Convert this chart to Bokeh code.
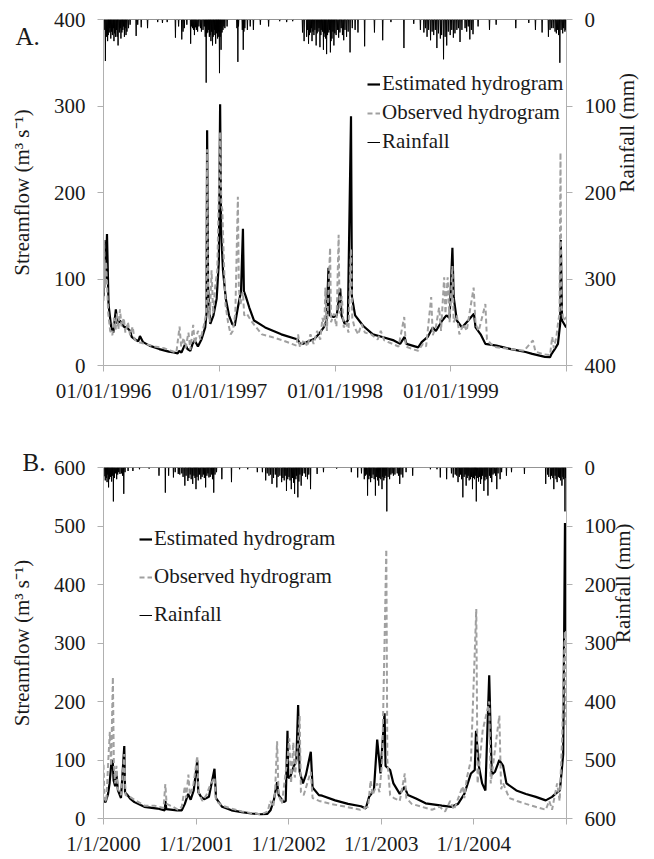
import math
import pandas as pd
from bokeh.plotting import figure
from bokeh.models import Range1d, LinearAxis, FixedTicker, Legend, LegendItem
from bokeh.layouts import column
from bokeh.embed import file_html
from bokeh.resources import INLINE

FONT = "Liberation Serif"
AXIS_GRAY = "#b0b0b0"
TEXT = "#1a1a1a"
EST_COLOR = "#000000"
OBS_COLOR = "#a0a0a0"

# ---------------- Panel A : 1996-1999 ----------------
a_est_dates = ["1996-01-01", "1996-01-04", "1996-01-08", "1996-01-12", "1996-01-17", "1996-01-25",
               "1996-02-01", "1996-02-09", "1996-02-14", "1996-02-22", "1996-03-05", "1996-03-15",
               "1996-03-25", "1996-03-30", "1996-04-10", "1996-04-20", "1996-04-25", "1996-05-05",
               "1996-05-25", "1996-06-25", "1996-07-25", "1996-08-10", "1996-08-22", "1996-08-27",
               "1996-09-03", "1996-09-15", "1996-09-22", "1996-10-01", "1996-10-08", "1996-10-15",
               "1996-10-25", "1996-11-05", "1996-11-17", "1996-11-21", "1996-11-23", "1996-11-26",
               "1996-12-03", "1996-12-13", "1996-12-23", "1996-12-30", "1997-01-03", "1997-01-06",
               "1997-01-12", "1997-01-21", "1997-01-31", "1997-02-10", "1997-02-18", "1997-02-28",
               "1997-03-10", "1997-03-16", "1997-03-19", "1997-03-25", "1997-04-05", "1997-04-20",
               "1997-05-25", "1997-07-15", "1997-09-05", "1997-09-12", "1997-09-20", "1997-10-15",
               "1997-10-28", "1997-11-10", "1997-11-26", "1997-12-05", "1997-12-11", "1997-12-14",
               "1997-12-27", "1998-01-06", "1998-01-17", "1998-01-21", "1998-01-31", "1998-02-10",
               "1998-02-20", "1998-02-23", "1998-03-05", "1998-03-30", "1998-04-30", "1998-05-30",
               "1998-07-05", "1998-07-25", "1998-08-08", "1998-08-14", "1998-09-20", "1998-10-01",
               "1998-10-20", "1998-11-05", "1998-11-15", "1998-12-05", "1998-12-18", "1998-12-28",
               "1999-01-06", "1999-01-10", "1999-01-20", "1999-02-05", "1999-02-25", "1999-03-15",
               "1999-03-20", "1999-04-05", "1999-04-20", "1999-05-25", "1999-07-10", "1999-08-25",
               "1999-09-15", "1999-10-25", "1999-11-10", "1999-11-15", "1999-11-25", "1999-12-05",
               "1999-12-12", "1999-12-14", "1999-12-18", "1999-12-31"]
a_est_flow = [80, 145, 100, 152, 70, 45,
              38, 65, 48, 52, 45, 44,
              40, 33, 30, 28, 34, 27,
              23, 19, 16, 15, 14, 17,
              15, 25, 19, 17, 25, 29,
              22, 30, 44, 60, 272, 90,
              48, 58, 77, 120, 302, 156,
              110, 77, 58, 48, 46, 67,
              86, 158, 86, 80, 67, 52,
              44, 36, 30, 25, 25, 29,
              31, 36, 44, 52, 113, 58,
              56, 58, 89, 58, 48, 52,
              288, 79, 58, 46, 36, 33,
              29, 25, 33, 25, 21, 27,
              33, 44, 40, 52, 58, 55,
              136, 79, 52, 44, 52, 60,
              44, 36, 25, 23, 19, 15.6,
              13.5, 10, 9.6, 13.5, 19, 25,
              48, 145, 52, 44]

a_obs_dates = ["1996-01-01", "1996-01-03", "1996-01-06", "1996-01-09", "1996-01-12", "1996-01-16",
               "1996-01-22", "1996-01-29", "1996-02-03", "1996-02-08", "1996-02-12", "1996-02-17",
               "1996-02-22", "1996-02-27", "1996-03-05", "1996-03-10", "1996-03-18", "1996-03-25",
               "1996-04-02", "1996-04-08", "1996-04-20", "1996-05-10", "1996-06-10", "1996-07-10",
               "1996-08-01", "1996-08-18", "1996-08-28", "1996-09-02", "1996-09-10", "1996-09-16",
               "1996-09-25", "1996-10-01", "1996-10-10", "1996-10-15", "1996-10-25", "1996-11-02",
               "1996-11-12", "1996-11-20", "1996-11-23", "1996-11-26", "1996-12-01", "1996-12-07",
               "1996-12-12", "1996-12-18", "1996-12-25", "1997-01-03", "1997-01-07", "1997-01-10",
               "1997-01-14", "1997-01-20", "1997-01-28", "1997-02-05", "1997-02-12", "1997-02-20",
               "1997-02-28", "1997-03-03", "1997-03-08", "1997-03-16", "1997-03-20", "1997-03-28",
               "1997-04-10", "1997-04-25", "1997-05-15", "1997-06-15", "1997-07-20", "1997-09-01",
               "1997-09-06", "1997-09-12", "1997-09-25", "1997-10-05", "1997-10-15", "1997-10-25",
               "1997-11-05", "1997-11-15", "1997-11-22", "1997-11-28", "1997-12-01", "1997-12-06",
               "1997-12-16", "1997-12-19", "1997-12-28", "1998-01-05", "1998-01-12", "1998-01-15",
               "1998-01-22", "1998-01-28", "1998-02-05", "1998-02-12", "1998-02-20", "1998-02-24",
               "1998-03-03", "1998-03-15", "1998-03-25", "1998-04-05", "1998-04-25", "1998-05-15",
               "1998-05-25", "1998-06-05", "1998-07-01", "1998-07-20", "1998-08-07", "1998-08-12",
               "1998-09-01", "1998-09-20", "1998-10-05", "1998-10-15", "1998-10-31", "1998-11-05",
               "1998-11-15", "1998-11-25", "1998-12-01", "1998-12-11", "1998-12-15", "1998-12-22",
               "1998-12-28", "1999-01-06", "1999-01-10", "1999-01-20", "1999-01-28", "1999-02-10",
               "1999-02-20", "1999-03-14", "1999-03-20", "1999-03-30", "1999-04-20", "1999-04-25",
               "1999-05-10", "1999-05-25", "1999-07-10", "1999-08-20", "1999-09-17", "1999-09-25",
               "1999-10-20", "1999-11-10", "1999-11-17", "1999-11-22", "1999-11-30", "1999-12-05",
               "1999-12-10", "1999-12-13", "1999-12-16", "1999-12-22", "1999-12-31"]
a_obs_flow = [75, 145, 90, 120, 95, 60,
              40, 35, 55, 40, 60, 42,
              65, 45, 55, 38, 50, 35,
              45, 30, 27, 25, 22, 20,
              17, 15, 45, 22, 32, 20,
              38, 18, 47, 25, 40, 30,
              45, 60, 250, 80, 50, 110,
              60, 90, 110, 270, 185, 180,
              130, 70, 50, 36, 40, 60,
              195, 90, 70, 85, 58, 60,
              52, 45, 36, 33, 29, 23,
              36, 21, 30, 22, 36, 25,
              40, 30, 55, 45, 90, 40,
              136, 50, 60, 45, 151, 60,
              80, 44, 50, 38, 135, 55,
              44, 36, 48, 38, 36, 30,
              40, 29, 25, 22, 56, 22,
              19, 17, 25, 22, 79, 35,
              45, 67, 40, 102, 60, 102,
              50, 115, 50, 58, 36, 48,
              40, 90, 48, 40, 71, 30,
              24, 21, 19, 17, 29, 16,
              13, 12, 33, 20, 33, 48,
              60, 246, 70, 52, 56]

# larger daily rainfall events
a_rain_dates = ["1996-01-07", "1996-01-10", "1996-01-14", "1996-01-19", "1996-01-24", "1996-01-29",
                "1996-02-03", "1996-02-08", "1996-02-16", "1996-02-20", "1996-02-25", "1996-03-02",
                "1996-03-07", "1996-03-12", "1996-03-20", "1996-04-13", "1996-04-18", "1996-04-29",
                "1996-05-19", "1996-06-20", "1996-07-05", "1996-07-20", "1996-08-15", "1996-08-25",
                "1996-09-04", "1996-09-08", "1996-09-12", "1996-09-20", "1996-10-02", "1996-10-08",
                "1996-10-14", "1996-10-20", "1996-10-28", "1996-11-05", "1996-11-20", "1996-11-25",
                "1996-11-30", "1996-12-05", "1996-12-10", "1996-12-15", "1996-12-20", "1996-12-24",
                "1996-12-28", "1997-01-01", "1997-01-06", "1997-01-12", "1997-01-18", "1997-01-25",
                "1997-02-28", "1997-03-17", "1997-03-22", "1997-03-30", "1997-04-08", "1997-04-18",
                "1997-05-10", "1997-06-05", "1997-07-10", "1997-08-01", "1997-08-20", "1997-09-20",
                "1997-09-25", "1997-10-03", "1997-10-09", "1997-10-15", "1997-10-20", "1997-10-26",
                "1997-11-02", "1997-11-08", "1997-11-14", "1997-11-20", "1997-11-25", "1997-11-30",
                "1997-12-05", "1997-12-12", "1997-12-17", "1997-12-22", "1997-12-28", "1998-01-12",
                "1998-01-28", "1998-02-17", "1998-03-14", "1998-04-04", "1998-05-05", "1998-05-31",
                "1998-06-26", "1998-08-06", "1998-09-06", "1998-09-27", "1998-10-08", "1998-10-18",
                "1998-10-29", "1998-11-08", "1998-11-18", "1998-11-29", "1998-12-09", "1998-12-19",
                "1998-12-30", "1999-01-09", "1999-01-20", "1999-01-30", "1999-02-15", "1999-03-02",
                "1999-03-12", "1999-03-28", "1999-05-03", "1999-05-24", "1999-07-25", "1999-09-04",
                "1999-09-25", "1999-10-16", "1999-11-05", "1999-11-15", "1999-11-26", "1999-12-11",
                "1999-12-27"]
a_rain_mm = [48, 20, 25, 15, 22, 18,
             25, 20, 30, 15, 22, 12,
             20, 18, 10, 19, 6, 9,
             10, 3, 4, 3, 21, 8,
             23, 14, 10, 6, 28, 10,
             18, 12, 8, 14, 73, 15,
             20, 25, 30, 18, 28, 12,
             20, 62, 35, 12, 10, 8,
             49, 35, 10, 12, 8, 12,
             6, 8, 2, 3, 2, 15,
             25, 20, 28, 15, 25, 18,
             30, 14, 32, 12, 35, 20,
             40, 15, 38, 22, 30, 21,
             24, 38, 15, 31, 15, 24,
             3, 33, 5, 12, 15, 20,
             24, 18, 33, 22, 46, 30,
             18, 21, 12, 26, 10, 23,
             17, 8, 12, 6, 10, 4,
             12, 15, 20, 10, 14, 50,
             14]
# smaller showers filling the wet seasons
a_shower_dates = ["1996-01-03", "1996-01-16", "1996-01-21", "1996-01-26", "1996-02-01", "1996-02-05",
                  "1996-02-11", "1996-02-13", "1996-02-23", "1996-02-28", "1996-03-04", "1996-03-09",
                  "1996-03-15", "1996-03-25", "1996-10-05", "1996-10-11", "1996-10-17", "1996-10-24",
                  "1996-11-02", "1996-11-10", "1996-11-14", "1996-11-17", "1996-11-22", "1996-11-28",
                  "1996-12-02", "1996-12-07", "1996-12-12", "1996-12-17", "1996-12-22", "1996-12-26",
                  "1996-12-30", "1997-01-03", "1997-01-09", "1997-01-15", "1997-02-25", "1997-03-02",
                  "1997-03-14", "1997-03-19", "1997-10-06", "1997-10-12", "1997-10-18", "1997-10-23",
                  "1997-10-29", "1997-11-05", "1997-11-11", "1997-11-17", "1997-11-22", "1997-11-28",
                  "1997-12-02", "1997-12-08", "1997-12-14", "1997-12-19", "1997-12-25", "1997-12-31",
                  "1998-01-04", "1998-01-08", "1998-01-16", "1998-01-20", "1998-01-24", "1998-02-01",
                  "1998-02-06", "1998-02-11", "1998-02-24", "1998-03-05", "1998-10-13", "1998-10-23",
                  "1998-11-03", "1998-11-13", "1998-11-23", "1998-12-03", "1998-12-14", "1998-12-24",
                  "1999-01-04", "1999-01-14", "1999-01-25", "1999-02-05", "1999-02-20", "1999-02-25",
                  "1999-03-07", "1999-11-10", "1999-11-20", "1999-11-30", "1999-12-04", "1999-12-07",
                  "1999-12-15", "1999-12-20", "1999-12-23", "1999-12-30"]
a_shower_mm = [12, 18, 10, 14, 10, 16,
               12, 20, 10, 15, 8, 10,
               14, 6, 8, 12, 9, 14,
               10, 12, 8, 20, 16, 12,
               18, 14, 20, 12, 16, 22,
               14, 20, 15, 8, 10, 8,
               12, 14, 12, 18, 10, 14,
               12, 16, 10, 18, 14, 16,
               22, 18, 12, 25, 14, 16,
               18, 12, 15, 10, 18, 12,
               20, 14, 10, 12, 10, 12,
               14, 12, 16, 18, 20, 14,
               12, 16, 10, 12, 14, 8,
               12, 12, 10, 16, 12, 18,
               12, 16, 10, 12]

a_tick_dates = ["1996-01-01", "1997-01-01", "1998-01-01", "1999-01-01"]
a_tick_labels = ["01/01/1996", "01/01/1997", "01/01/1998", "01/01/1999"]
a_flow_ticks = [0, 100, 200, 300, 400]
a_rain_ticks = [0, 100, 200, 300, 400]

# ---------------- Panel B : 2000-2004 ----------------
b_est_dates = ["2000-01-01", "2000-01-09", "2000-01-19", "2000-01-25", "2000-02-01", "2000-02-06",
               "2000-02-10", "2000-02-16", "2000-02-20", "2000-02-27", "2000-03-10", "2000-03-23",
               "2000-03-26", "2000-04-05", "2000-04-15", "2000-05-02", "2000-06-10", "2000-08-01",
               "2000-08-30", "2000-09-01", "2000-09-05", "2000-10-17", "2000-11-05", "2000-11-17",
               "2000-11-30", "2000-12-10", "2000-12-22", "2001-01-05", "2001-01-09", "2001-01-20",
               "2001-02-01", "2001-02-20", "2001-03-14", "2001-03-20", "2001-04-13", "2001-05-20",
               "2001-06-30", "2001-08-07", "2001-09-13", "2001-10-09", "2001-10-21", "2001-11-03",
               "2001-11-16", "2001-11-22", "2001-12-12", "2001-12-20", "2001-12-27", "2001-12-30",
               "2002-01-06", "2002-01-19", "2002-01-31", "2002-02-07", "2002-02-13", "2002-02-26",
               "2002-03-10", "2002-03-29", "2002-04-05", "2002-04-30", "2002-05-13", "2002-07-03",
               "2002-08-23", "2002-10-13", "2002-11-01", "2002-11-14", "2002-12-03", "2002-12-16",
               "2002-12-29", "2003-01-14", "2003-01-18", "2003-02-05", "2003-02-18", "2003-03-15",
               "2003-04-03", "2003-04-16", "2003-05-18", "2003-06-25", "2003-08-28", "2003-10-05",
               "2003-10-31", "2003-11-25", "2003-12-21", "2004-01-05", "2004-01-10", "2004-01-21",
               "2004-02-03", "2004-02-16", "2004-03-02", "2004-03-12", "2004-03-25", "2004-04-11",
               "2004-04-26", "2004-05-09", "2004-06-17", "2004-07-25", "2004-09-02", "2004-10-11",
               "2004-11-05", "2004-11-18", "2004-12-06", "2004-12-19", "2004-12-26", "2004-12-31"]
b_est_flow = [31, 28, 42, 60, 95, 100,
              65, 55, 80, 48, 35, 124,
              45, 40, 34, 28, 20, 17,
              14, 30, 16, 14, 14, 25,
              42, 32, 48, 99, 45, 37,
              33, 37, 85, 35, 20, 14,
              11, 8.5, 7.3, 8, 14, 31,
              62, 40, 28, 30, 150, 70,
              70, 87, 99, 194, 80, 60,
              75, 114, 53, 40, 39, 31,
              25, 21, 17, 37, 48, 135,
              77, 180, 90, 83, 60, 42,
              54, 40, 34, 26, 22, 20,
              25, 42, 77, 83, 150, 90,
              60, 48, 245, 75, 80, 100,
              90, 60, 48, 42, 37, 31,
              37, 42, 48, 110, 505, 320]

b_obs_dates = ["2000-01-01", "2000-01-05", "2000-01-12", "2000-01-20", "2000-01-26", "2000-01-31",
               "2000-02-07", "2000-02-11", "2000-02-16", "2000-02-21", "2000-02-27", "2000-03-10",
               "2000-03-23", "2000-03-28", "2000-04-10", "2000-05-10", "2000-06-10", "2000-07-20",
               "2000-08-25", "2000-09-01", "2000-09-06", "2000-10-01", "2000-10-20", "2000-11-05",
               "2000-11-17", "2000-11-22", "2000-12-01", "2000-12-07", "2000-12-20", "2001-01-05",
               "2001-01-10", "2001-01-25", "2001-02-10", "2001-02-25", "2001-03-14", "2001-03-20",
               "2001-04-13", "2001-05-20", "2001-06-30", "2001-08-10", "2001-09-15", "2001-10-10",
               "2001-10-20", "2001-11-01", "2001-11-08", "2001-11-16", "2001-11-22", "2001-12-05",
               "2001-12-20", "2001-12-27", "2002-01-03", "2002-01-10", "2002-01-19", "2002-01-25",
               "2002-02-07", "2002-02-13", "2002-02-18", "2002-03-01", "2002-03-29", "2002-04-05",
               "2002-05-01", "2002-06-15", "2002-08-15", "2002-10-10", "2002-11-10", "2002-11-20",
               "2002-11-28", "2002-12-16", "2002-12-25", "2003-01-05", "2003-01-21", "2003-01-25",
               "2003-02-05", "2003-02-20", "2003-03-15", "2003-04-04", "2003-04-10", "2003-05-01",
               "2003-06-10", "2003-07-20", "2003-08-20", "2003-09-10", "2003-09-30", "2003-10-15",
               "2003-11-18", "2003-11-25", "2003-12-05", "2003-12-21", "2004-01-11", "2004-01-16",
               "2004-01-25", "2004-02-05", "2004-03-02", "2004-03-08", "2004-04-11", "2004-04-18",
               "2004-04-26", "2004-05-20", "2004-06-20", "2004-07-25", "2004-09-01", "2004-10-11",
               "2004-10-25", "2004-11-05", "2004-11-25", "2004-12-05", "2004-12-15", "2004-12-25",
               "2004-12-31"]
b_obs_flow = [92, 35, 28, 100, 148, 90,
              242, 90, 60, 90, 50, 40,
              110, 40, 38, 30, 22, 22,
              18, 59, 25, 20, 15, 20,
              55, 35, 75, 40, 55, 107,
              45, 30, 40, 57, 70, 30,
              22, 17, 12, 9, 7, 12,
              30, 20, 45, 132, 40, 25,
              80, 100, 137, 60, 130, 70,
              130, 175, 45, 40, 80, 35,
              30, 25, 20, 15, 20, 65,
              40, 60, 45, 100, 460, 100,
              40, 35, 30, 77, 35, 25,
              20, 15, 20, 12, 30, 15,
              55, 35, 70, 100, 358, 60,
              100, 150, 200, 60, 176, 50,
              60, 35, 30, 25, 20, 15,
              30, 15, 60, 30, 140, 320,
              160]

b_rain_dates = ["2000-01-08", "2000-01-21", "2000-02-09", "2000-02-22", "2000-03-06", "2000-03-21",
                "2000-04-07", "2000-04-26", "2000-05-22", "2000-06-29", "2000-08-07", "2000-09-01",
                "2000-09-14", "2000-10-03", "2000-10-22", "2000-11-17", "2000-11-29", "2000-12-18",
                "2000-12-31", "2001-01-19", "2001-02-07", "2001-02-20", "2001-03-11", "2001-04-12",
                "2001-05-20", "2001-06-21", "2001-07-23", "2001-08-30", "2001-09-19", "2001-10-02",
                "2001-10-27", "2001-11-15", "2001-12-04", "2001-12-23", "2002-01-11", "2002-01-24",
                "2002-02-06", "2002-02-19", "2002-03-16", "2002-03-28", "2002-04-23", "2002-05-18",
                "2002-07-09", "2002-09-05", "2002-09-30", "2002-10-26", "2002-11-08", "2002-11-20",
                "2002-12-09", "2002-12-22", "2003-01-04", "2003-01-11", "2003-01-23", "2003-02-03",
                "2003-02-18", "2003-03-15", "2003-03-27", "2003-04-09", "2003-05-05", "2003-07-14",
                "2003-08-09", "2003-08-22", "2003-09-16", "2003-10-12", "2003-10-31", "2003-11-19",
                "2003-12-02", "2003-12-14", "2003-12-27", "2004-01-11", "2004-01-28", "2004-02-10",
                "2004-02-26", "2004-03-12", "2004-04-01", "2004-04-14", "2004-05-09", "2004-05-29",
                "2004-07-19", "2004-10-11", "2004-10-30", "2004-11-12", "2004-11-25", "2004-12-14",
                "2004-12-26"]
b_rain_mm = [22, 34, 58, 20, 11, 45,
             6, 6, 3, 2, 14, 43,
             14, 17, 11, 31, 23, 28,
             37, 20, 34, 17, 43, 20,
             25, 3, 3, 8, 8, 22,
             28, 34, 25, 40, 37, 45,
             51, 31, 20, 37, 11, 8,
             2, 8, 17, 20, 48, 25,
             48, 31, 37, 22, 75, 20,
             14, 28, 17, 8, 14, 3,
             3, 17, 20, 17, 25, 51,
             31, 22, 37, 58, 28, 40,
             48, 25, 37, 20, 14, 8,
             11, 28, 20, 37, 25, 31,
             75]
b_shower_dates = ["2000-01-03", "2000-01-12", "2000-01-15", "2000-01-18", "2000-01-25", "2000-01-29",
                  "2000-02-02", "2000-02-05", "2000-02-13", "2000-02-17", "2000-02-26", "2000-03-01",
                  "2000-03-12", "2000-03-16", "2000-03-26", "2000-10-10", "2000-10-28", "2000-11-05",
                  "2000-11-10", "2000-11-22", "2000-12-03", "2000-12-08", "2000-12-12", "2000-12-23",
                  "2000-12-27", "2001-01-04", "2001-01-09", "2001-01-14", "2001-01-24", "2001-01-29",
                  "2001-02-02", "2001-02-12", "2001-02-16", "2001-02-25", "2001-03-03", "2001-03-06",
                  "2001-03-16", "2001-03-22", "2001-10-08", "2001-10-15", "2001-10-21", "2001-11-02",
                  "2001-11-09", "2001-11-20", "2001-11-27", "2001-12-09", "2001-12-14", "2001-12-18",
                  "2001-12-28", "2002-01-02", "2002-01-06", "2002-01-16", "2002-01-20", "2002-01-29",
                  "2002-02-01", "2002-02-10", "2002-02-14", "2002-02-24", "2002-03-03", "2002-03-09",
                  "2002-03-21", "2002-10-15", "2002-10-30", "2002-11-03", "2002-11-13", "2002-11-16",
                  "2002-11-25", "2002-11-30", "2002-12-04", "2002-12-14", "2002-12-18", "2002-12-26",
                  "2002-12-30", "2003-01-07", "2003-01-15", "2003-01-19", "2003-01-28", "2003-02-08",
                  "2003-02-13", "2003-02-24", "2003-03-05", "2003-03-10", "2003-03-20", "2003-10-05",
                  "2003-10-20", "2003-10-26", "2003-11-05", "2003-11-10", "2003-11-14", "2003-11-24",
                  "2003-11-28", "2003-12-06", "2003-12-10", "2003-12-19", "2003-12-23", "2003-12-31",
                  "2004-01-04", "2004-01-07", "2004-01-15", "2004-01-20", "2004-01-24", "2004-02-01",
                  "2004-02-05", "2004-02-14", "2004-02-18", "2004-02-22", "2004-03-03", "2004-03-07",
                  "2004-03-17", "2004-03-22", "2004-03-27", "2004-04-06", "2004-04-20", "2004-10-18",
                  "2004-10-23", "2004-11-03", "2004-11-08", "2004-11-17", "2004-11-21", "2004-11-30",
                  "2004-12-04", "2004-12-09", "2004-12-18", "2004-12-21", "2004-12-29"]
b_shower_mm = [15, 18, 25, 12, 20, 16,
               24, 14, 18, 10, 12, 8,
               10, 14, 8, 8, 12, 10,
               16, 14, 18, 12, 20, 14,
               18, 16, 22, 12, 16, 12,
               18, 14, 10, 16, 12, 20,
               12, 8, 10, 14, 12, 18,
               12, 16, 14, 18, 22, 14,
               20, 16, 22, 18, 26, 20,
               14, 24, 12, 14, 10, 16,
               12, 10, 14, 12, 20, 14,
               18, 12, 20, 16, 22, 18,
               20, 16, 18, 14, 16, 12,
               10, 12, 10, 14, 12, 10,
               12, 14, 16, 12, 20, 16,
               12, 18, 14, 20, 16, 18,
               20, 14, 18, 24, 16, 20,
               14, 22, 16, 20, 14, 18,
               12, 10, 14, 10, 8, 12,
               16, 14, 18, 14, 20, 16,
               18, 22, 16, 20, 18]

b_tick_dates = ["2000-01-01", "2001-01-01", "2002-01-01", "2003-01-01", "2004-01-01"]
b_tick_labels = ["1/1/2000", "1/1/2001", "1/1/2002", "1/1/2003", "1/1/2004"]
b_flow_ticks = [0, 100, 200, 300, 400, 500, 600]
b_rain_ticks = [0, 100, 200, 300, 400, 500, 600]

legend_labels = ["Estimated hydrogram", "Observed hydrogram", "Rainfall"]
flow_title = "Streamflow (m³ s⁻¹)"
rain_title = "Rainfall (mm)"


def ms(d):
    return float(pd.Timestamp(d).value // 10**6)


def style_axis(ax):
    ax.axis_line_color = AXIS_GRAY
    ax.major_tick_line_color = AXIS_GRAY
    ax.minor_tick_line_color = AXIS_GRAY
    ax.major_tick_in = 0
    ax.major_tick_out = 6
    ax.minor_tick_in = 0
    ax.minor_tick_out = 6
    ax.major_label_text_font = FONT
    ax.major_label_text_font_size = "21px"
    ax.major_label_text_font_style = "normal"
    ax.major_label_text_color = TEXT
    ax.axis_label_text_font = FONT
    ax.axis_label_text_font_size = "21px"
    ax.axis_label_text_font_style = "normal"
    ax.axis_label_text_color = TEXT


def make_panel(start, end, ymax, est_d, est_v, obs_d, obs_v, rain_d, rain_v,
               shower_d, shower_v, tick_d, tick_l, flow_ticks, rain_ticks,
               height, mt, mb, ml, mr,
               panel_text, panel_offset, panel_standoff, panel_line_height,
               legend_loc, legend_spacing, rain_label_standoff):
    p = figure(width=654, height=height, x_axis_type="datetime",
               output_backend="svg", toolbar_location=None,
               x_range=Range1d(ms(start), ms(end)), y_range=Range1d(0, ymax),
               min_border_left=ml, min_border_right=mr,
               min_border_top=mt, min_border_bottom=mb)
    p.outline_line_color = None
    p.xgrid.visible = False
    p.ygrid.visible = False
    p.background_fill_color = "white"
    p.border_fill_color = "white"

    # panel letter drawn as the figure title, pulled down beside the y axis
    p.title.text = panel_text
    p.title.align = "left"
    p.title.offset = panel_offset
    p.title.standoff = panel_standoff
    p.title.vertical_align = "bottom"
    p.title.text_font = FONT
    p.title.text_font_size = "25px"
    p.title.text_font_style = "normal"
    p.title.text_color = TEXT
    p.title.text_line_height = panel_line_height

    p.extra_y_ranges = {"rain": Range1d(start=ymax, end=0)}

    # x axis
    xa = p.below[0]
    xa.ticker = FixedTicker(ticks=[ms(d) for d in tick_d], minor_ticks=[ms(end)])
    xa.major_label_overrides = {ms(d): l for d, l in zip(tick_d, tick_l)}
    style_axis(xa)
    xa.major_label_standoff = 7

    # left axis
    ya = p.left[0]
    ya.ticker = FixedTicker(ticks=flow_ticks)
    ya.axis_label = flow_title
    style_axis(ya)
    ya.minor_tick_line_color = None
    ya.major_label_standoff = 12
    ya.axis_label_standoff = 17

    # right axis (rainfall, reversed)
    ra = LinearAxis(y_range_name="rain", ticker=FixedTicker(ticks=rain_ticks))
    style_axis(ra)
    ra.minor_tick_line_color = None
    ra.major_label_standoff = 12
    ra.axis_label = rain_title
    ra.axis_label_standoff = rain_label_standoff
    try:
        ra.axis_label_orientation = math.pi / 2
    except Exception:
        pass
    p.add_layout(ra, "right")

    est_x = pd.to_datetime(est_d)
    obs_x = pd.to_datetime(obs_d)
    r_est = p.line(est_x, est_v, line_color=EST_COLOR, line_width=2.2)
    r_obs = p.line(obs_x, obs_v, line_color=OBS_COLOR, line_width=2, line_dash="5 3")

    # daily rainfall: zero on days without a recorded event
    days = pd.date_range(start, end, freq="D")
    rain = pd.Series(0.0, index=days)
    rain.loc[pd.to_datetime(rain_d)] = rain_v
    rain.loc[pd.to_datetime(shower_d)] = shower_v
    r_rain = p.line(rain.index, rain.values, line_color="black", line_width=1,
                    y_range_name="rain")

    legend = Legend(items=[LegendItem(label=legend_labels[0], renderers=[r_est]),
                           LegendItem(label=legend_labels[1], renderers=[r_obs]),
                           LegendItem(label=legend_labels[2], renderers=[r_rain])],
                    location=legend_loc)
    legend.border_line_color = None
    legend.background_fill_alpha = 0
    legend.padding = 0
    legend.margin = 0
    legend.spacing = legend_spacing
    legend.glyph_width = 13
    legend.glyph_height = 24
    legend.label_height = 24
    legend.label_standoff = 2
    legend.label_text_font = FONT
    legend.label_text_font_size = "21px"
    legend.label_text_color = TEXT
    p.add_layout(legend)
    return p


pA = make_panel("1996-01-01", "2000-01-01", 400, a_est_dates, a_est_flow, a_obs_dates, a_obs_flow,
                a_rain_dates, a_rain_mm, a_shower_dates, a_shower_mm,
                a_tick_dates, a_tick_labels, a_flow_ticks, a_rain_ticks,
                height=406, mt=19, mb=41, ml=103, mr=81,
                panel_text="\u00a0\nA.", panel_offset=-88, panel_standoff=-62,
                panel_line_height=1.7,
                legend_loc=(264, 211), legend_spacing=4, rain_label_standoff=8)

pB = make_panel("2000-01-01", "2005-01-01", 600, b_est_dates, b_est_flow, b_obs_dates, b_obs_flow,
                b_rain_dates, b_rain_mm, b_shower_dates, b_shower_mm,
                b_tick_dates, b_tick_labels, b_flow_ticks, b_rain_ticks,
                height=452, mt=61, mb=36, ml=101, mr=77,
                panel_text="B.", panel_offset=-81, panel_standoff=-16,
                panel_line_height=1.2,
                legend_loc=(36, 191), legend_spacing=13, rain_label_standoff=4)

layout = column(pA, pB, spacing=0)
open("out.html", "w").write(file_html(layout, INLINE))
